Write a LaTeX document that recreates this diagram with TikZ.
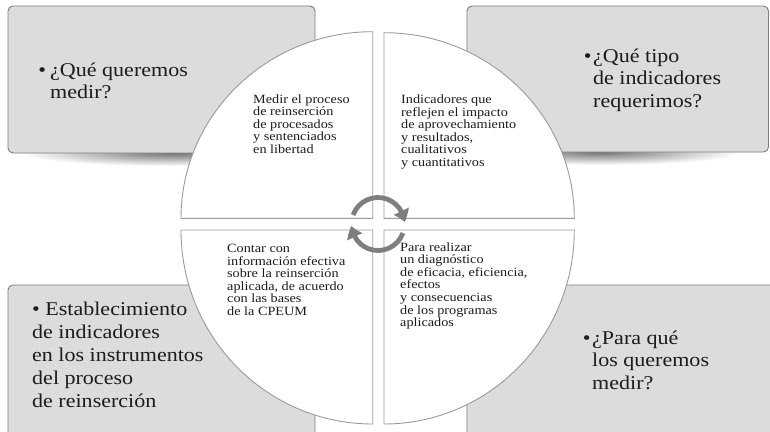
\documentclass[tikz,border=0pt]{standalone}
\usepackage{fontspec}
\setmainfont{Liberation Serif}[FakeStretch=1.13]
\usetikzlibrary{arrows.meta,bending}
\definecolor{boxfill}{HTML}{DCDCDE}
\definecolor{boxline}{HTML}{7C7C7C}
\definecolor{quadline}{HTML}{9A9A9A}
\definecolor{txt}{HTML}{1C1C1C}
\definecolor{arrowgray}{HTML}{7E7E7E}
\begin{document}
\begin{tikzpicture}[x=1pt,y=-1pt,
  qbox/.style={fill=boxfill,draw=boxline,line width=0.9pt,rounded corners=5pt},
  quad/.style={fill=white,draw=quadline,line width=0.9pt},
  bigtext/.style={font=\fontsize{19.5}{22.5}\selectfont,text=txt,align=left,inner sep=0pt,anchor=base west},
  smalltext/.style={font=\fontsize{12.6}{12.6}\selectfont,text=txt,align=left,inner sep=0pt,anchor=base west},
  cyc/.style={draw=arrowgray,line width=4.8pt,-{Triangle[width=16pt,length=11.5pt,bend]}}
]
\useasboundingbox (0,0) rectangle (770,431);
\clip (0,0) rectangle (770,431);
\fill[white] (0,0) rectangle (770,431);

% shadows under the upper boxes
\begin{scope}
  \clip (8,153) rectangle (315,172);
  \shade[inner color=black!55,outer color=white] (172,153) ellipse[x radius=150,y radius=13];
\end{scope}
\begin{scope}
  \clip (467,152) rectangle (768.5,172);
  \shade[inner color=black!55,outer color=white] (600,152) ellipse[x radius=140,y radius=13];
\end{scope}

% grey boxes
\path[qbox] (8,6) rectangle (315,153);
\path[qbox] (467,6) rectangle (768.5,152);
\path[qbox] (8,285) rectangle (315,445);
\path[qbox] (467,285) rectangle (785,445);

% quadrants
\draw[quad] (372.7,218.3) -- (372.7,31.7) arc[start angle=270,end angle=180,x radius=191.7,y radius=186.6] -- cycle;
\draw[quad] (384,218.3) -- (384,32.7) arc[start angle=270,end angle=360,x radius=190.3,y radius=185.6] -- cycle;
\draw[quad] (372.7,230) -- (181,230) arc[start angle=180,end angle=90,x radius=191.7,y radius=194] -- cycle;
\draw[quad] (384,230) -- (574.3,230) arc[start angle=0,end angle=90,x radius=190.3,y radius=194] -- cycle;

% box texts (anchored at the baseline of the last line)
\node[bigtext] (q1) at (50,98.5) {\llap{•\hspace{4pt}}¿Qué queremos\\medir?};
\node[bigtext] (q2) at (593,107) {\llap{•\hspace{1.5pt}}¿Qué tipo\\de indicadores\\requerimos?};
\node[bigtext,font=\fontsize{19.5}{23}\selectfont] (q3) at (32,407) {• Establecimiento\\de indicadores\\en los instrumentos\\del proceso\\de reinserción};
\node[bigtext] (q4) at (592,389) {\llap{•\hspace{1.5pt}}¿Para qué\\los queremos\\medir?};

% quadrant texts
\node[smalltext] (a1) at (253,153.4) {Medir el proceso\\de reinserción\\de procesados\\y sentenciados\\en libertad};
\node[smalltext] (a2) at (401,166.5) {Indicadores que\\reflejen el impacto\\de aprovechamiento\\y resultados,\\cualitativos\\y cuantitativos};
\node[smalltext] (a3) at (227,315.5) {Contar con\\información efectiva\\sobre la reinserción\\aplicada, de acuerdo\\con las bases\\de la CPEUM};
\node[smalltext] (a4) at (400,326.6) {Para realizar\\un diagnóstico\\de eficacia, eficiencia,\\efectos\\y consecuencias\\de los programas\\aplicados};

% circular arrows
\coordinate (c) at (378,224);
\draw[cyc] (c) ++(200:26.5) arc[start angle=200,end angle=356,radius=26.5];
\draw[cyc] (c) ++(20:26.5) arc[start angle=20,end angle=176,radius=26.5];
\end{tikzpicture}
\end{document}
